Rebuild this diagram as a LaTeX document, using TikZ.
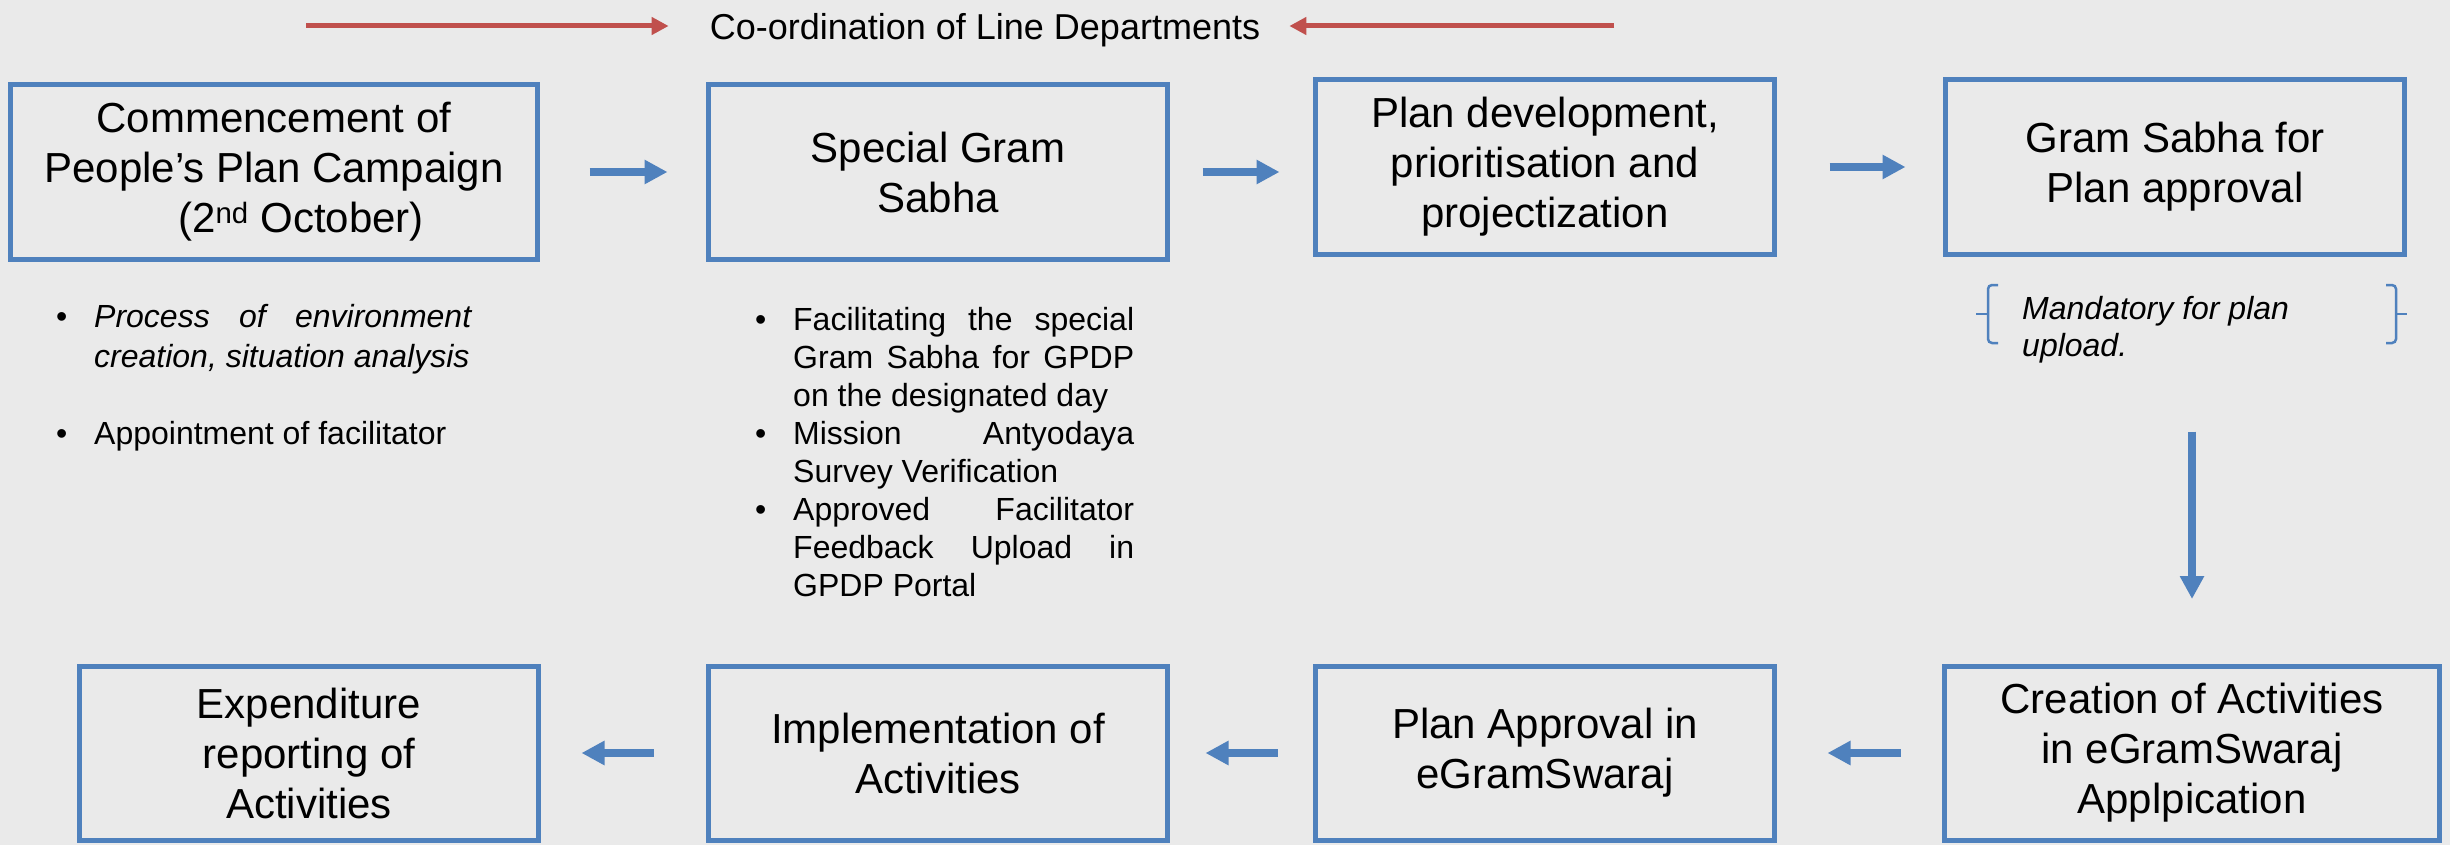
\documentclass[tikz,border=0pt]{standalone}
\usepackage{fontspec}
\setmainfont{Liberation Sans}
\usetikzlibrary{arrows.meta}
\definecolor{boxblue}{RGB}{79,129,189}
\definecolor{linered}{RGB}{192,80,77}
\definecolor{slidegray}{RGB}{234,234,234}
\hyphenpenalty=10000
\exhyphenpenalty=10000
\newcommand{\bitem}[1]{\noindent\hangindent=38pt\hangafter=1\makebox[38pt][l]{\textbullet}#1\par}

\begin{document}
\begin{tikzpicture} [x=1pt, y=-1pt,
    flow/.style = {-{Triangle[length=23pt,width=23pt]}, line width=8pt, draw=boxblue},
    ]
        \tikzset{StageStyle/.style = {draw=boxblue, line width=5pt, minimum width=459pt, minimum height=175pt, inner sep=0, align=center, font=\fontsize{42}{50}\selectfont}}
        \tikzset{NoteStyle/.style = {inner sep=0, align=justify, font=\fontsize{32}{39}\selectfont}}
        \tikzset{coord/.style = {-{Triangle[length=17pt,width=17pt]}, line width=5pt, draw=linered}}
        \tikzset{bracket/.style = {draw=boxblue, line width=2.5pt, rounded corners=4pt}}
    \useasboundingbox (0,0) rectangle (2450,845);
    \fill[slidegray] (0,0) rectangle (2450,845);

    % heading
    \node[inner sep=0, font=\fontsize{36}{43}\selectfont] at (985,30) (title) {Co-ordination of Line Departments};
    \coordinate (cl) at (306,26);
    \coordinate (cr) at (1614,26);
    \draw[coord, shorten >=41pt] (cl) -- (cl -| title.west);
    \draw[coord, shorten >=29pt] (cr) -- (cr -| title.east);

    % top row
    \node[StageStyle, minimum width=527pt] at (274,172) (b1) {Commencement of\\People’s Plan Campaign\\\hspace*{54pt}(2\textsuperscript{nd} October)};
    \node[StageStyle] at (938,172) (b2) {Special Gram\\Sabha};
    \node[StageStyle] at (1545,167) (b3) {Plan development,\\prioritisation and\\projectization};
    \node[StageStyle] at (2175,167) (b4) {Gram Sabha for\\Plan approval};

    % bottom row
    \node[StageStyle, minimum height=174pt] at (309,753) (b5) {Expenditure\\reporting of\\Activities};
    \node[StageStyle, minimum height=174pt] at (938,753) (b6) {Implementation of\\Activities};
    \node[StageStyle, minimum height=174pt] at (1545,753) (b7) {Plan Approval in\\eGramSwaraj};
    \node[StageStyle, minimum height=174pt, minimum width=495pt] at (2192,753) (b8) {Creation of Activities\\in eGramSwaraj\\Applpication};

    % notes
    \node[NoteStyle, anchor=north west, text width=415pt, font=\fontsize{32}{40}\selectfont] at (56,304) (n1) {\bitem{\textit{Process of environment\linebreak creation, situation analysis}}\vspace{37pt}\bitem{Appointment of facilitator}};
    \node[NoteStyle, anchor=north west, text width=379pt, font=\fontsize{32}{38}\selectfont] at (755,307) (n2) {\bitem{Facilitating the special\linebreak Gram Sabha for GPDP\linebreak on the designated day}\bitem{Mission Antyodaya\linebreak Survey Verification}\bitem{Approved Facilitator\linebreak Feedback Upload in\linebreak GPDP Portal}};
    \node[NoteStyle, align=left, anchor=north west, font=\fontsize{32}{37}\selectfont\itshape] at (2022,296) (mand) {Mandatory for plan\\upload.};
    \draw[bracket] (1998,285) -- ++(-10,0) -- ++(0,58) -- ++(10,0);
    \draw[bracket] (1988,314) -- ++(-12,0);
    \draw[bracket] (2386,285) -- ++(10,0) -- ++(0,58) -- ++(-10,0);
    \draw[bracket] (2396,314) -- ++(11,0);

    % flow
    \draw[flow, shorten <=49.5pt, shorten >=38.5pt] (b1.east) -- (b1.east -| b2.west);
    \draw[flow, shorten <=32.5pt, shorten >=33.5pt] (b2.east) -- (b2.east -| b3.west);
    \draw[flow, shorten <=52.5pt, shorten >=37.5pt] (b3.east) -- (b3.east -| b4.west);
    \draw[flow, shorten <=174.5pt, shorten >=64.5pt] (b8.north |- b4.south) -- (b8.north);
    \draw[flow, shorten <=41.5pt, shorten >=50.5pt] (b8.west) -- (b8.west -| b7.east);
    \draw[flow, shorten <=35.5pt, shorten >=35.5pt] (b7.west) -- (b7.west -| b6.east);
    \draw[flow, shorten <=52.5pt, shorten >=40.5pt] (b6.west) -- (b6.west -| b5.east);
\end{tikzpicture}
\end{document}
